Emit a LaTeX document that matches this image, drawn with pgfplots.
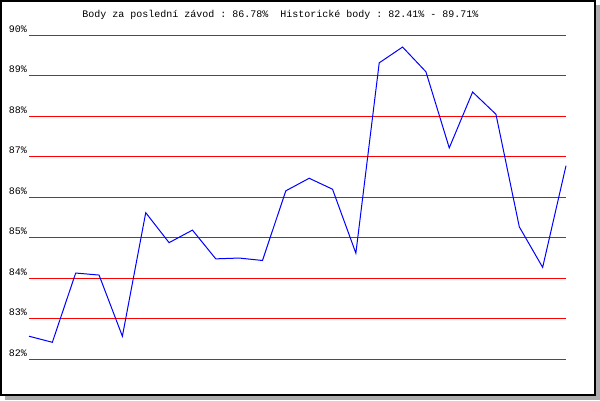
\documentclass[border=0pt]{standalone}
\usepackage{fontspec}
\setmainfont{Liberation Mono}
\setmonofont{Liberation Mono}
\usepackage{pgfplots}
\pgfplotsset{compat=1.18}

\begin{document}
\begin{tikzpicture}[x=1pt,y=1pt]
% shadow and frame
\fill[black!32] (5,0) rectangle (600,395);
\fill[white] (0,4) rectangle (596,400);
\draw[black, line width=2pt] (1,5) rectangle (595,399);
\node[anchor=base, inner sep=0pt, font=\fontsize{10}{12}\selectfont\ttfamily] at (280.5,382)
  {Body za poslední závod : 86.78\%\ \ Historické body : 82.41\% - 89.71\%};
\begin{axis}[
    at={(29pt,40.7pt)}, anchor=south west,
    scale only axis,
    width=537pt, height=324pt,
    xmin=0, xmax=23, ymin=82, ymax=90,
    axis line style={draw=none},
    xtick=\empty,
    ytick={82,83,...,90},
    yticklabels={82\%,83\%,84\%,85\%,86\%,87\%,88\%,89\%,90\%},
    major tick length=0pt,
    ymajorgrids,
    grid style={red, line width=1pt},
    yticklabel style={anchor=base east, inner sep=0pt, xshift=-2pt, yshift=3pt,
      font=\fontsize{10}{12}\selectfont\ttfamily},
    clip=false,
]
\addplot[blue, line width=1pt, mark=none] coordinates {
 (0,82.57) (1,82.42) (2,84.13) (3,84.08) (4,82.57) (5,85.62)
 (6,84.88) (7,85.19) (8,84.48) (9,84.50) (10,84.44) (11,86.16)
 (12,86.47) (13,86.20) (14,84.62) (15,89.32) (16,89.71) (17,89.10)
 (18,87.22) (19,88.60) (20,88.05) (21,85.27) (22,84.27) (23,86.78)
};
\end{axis}
\end{tikzpicture}
\end{document}
